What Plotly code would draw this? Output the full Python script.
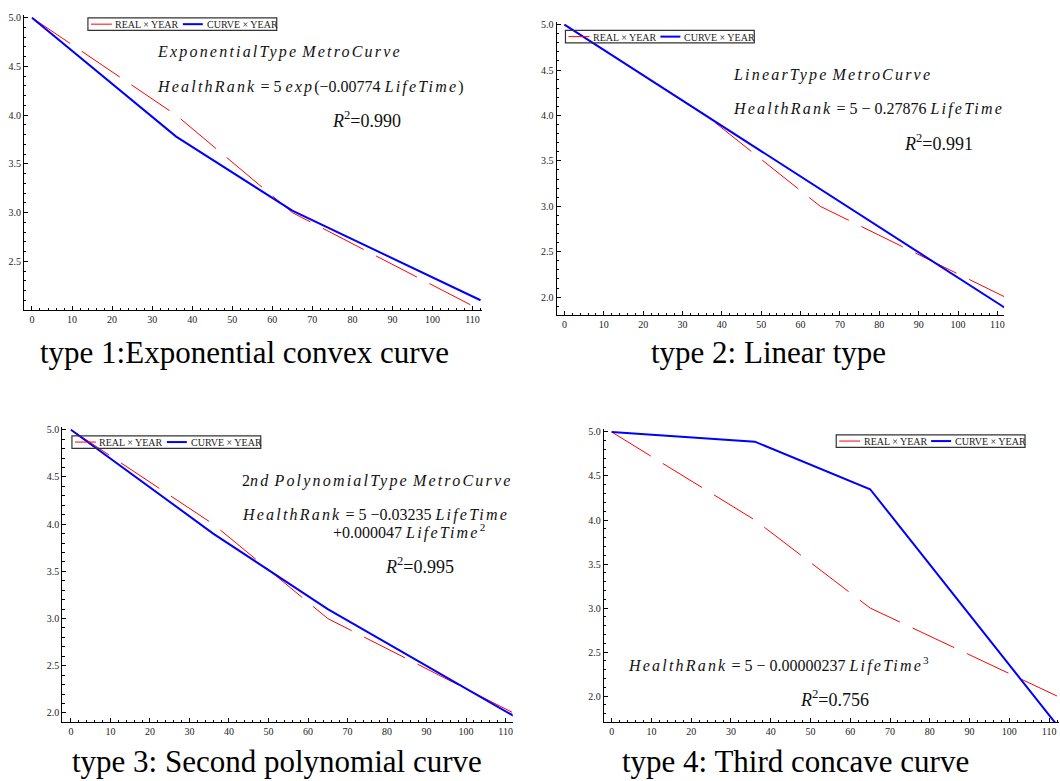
import plotly.graph_objects as go

W, H = 1060, 781

# ---- data ----
years = [0, 36, 65, 112]
real_rank = [5.0, 4.0, 3.0, 2.0]
curve_exponential = [5.0, 3.78, 3.02, 2.10]
curve_linear = [5.0, 4.0, 3.19, 1.88]
curve_poly2 = [5.0, 3.90, 3.10, 1.97]
curve_poly3 = [5.0, 4.89, 4.35, 1.67]

x_ticks = [0, 10, 20, 30, 40, 50, 60, 70, 80, 90, 100, 110]
y_ticks_p1 = [2.5, 3.0, 3.5, 4.0, 4.5, 5.0]
y_ticks = [2.0, 2.5, 3.0, 3.5, 4.0, 4.5, 5.0]

captions = ["type 1:Exponential convex curve", "type 2: Linear type",
            "type 3: Second polynomial curve", "type 4: Third concave curve"]
legend_names = ["REAL \u00d7 YEAR", "CURVE \u00d7 YEAR"]

FONT = "Liberation Serif"
RED = "#ff0000"
BLUE = "#0000ff"

# panel layout: pixel boxes (left, right, top, bottom), axis ranges, legend box (left, top)
panels = [
    dict(curve=curve_exponential, px=(24.0, 482.2, 11.8, 308.2), xr=[-2, 112.3], yr=[2.0, 5.03],
         yt=y_ticks_p1, leg=(88, 15)),
    dict(curve=curve_linear, px=(557.1, 1005.0, 19.0, 313.5), xr=[-2, 111.7], yr=[1.80, 5.03],
         yt=y_ticks, leg=(566, 27.5)),
    dict(curve=curve_poly2, px=(62.3, 513.2, 425.5, 722.2), xr=[-2.2, 111.8], yr=[1.90, 5.03],
         yt=y_ticks, leg=(72, 434.5)),
    dict(curve=curve_poly3, px=(604.3, 1060.0, 428.0, 722.2), xr=[-2, 112.5], yr=[1.70, 5.03],
         yt=y_ticks, leg=(837, 433.5)),
]


def fx(px):
    return px / W


def fy(py):
    return 1 - py / H


fig = go.Figure()
layout = dict(width=W, height=H, margin=dict(l=0, r=0, t=0, b=0),
              paper_bgcolor="white", plot_bgcolor="white", showlegend=False)

annos = []
shapes = []


def txt(text, px, py, size=16, anchor="left", color="#111111"):
    annos.append(dict(text=text, x=fx(px), y=fy(py), xref="paper", yref="paper",
                      xanchor=anchor, yanchor="middle", showarrow=False,
                      font=dict(family=FONT, size=size, color=color)))


for i, p in enumerate(panels):
    n = "" if i == 0 else str(i + 1)
    fig.add_trace(go.Scatter(x=years, y=real_rank, mode="lines", name=legend_names[0],
                             line=dict(color=RED, width=1, dash="46px,14px"),
                             xaxis=f"x{n}", yaxis=f"y{n}"))
    fig.add_trace(go.Scatter(x=years, y=p["curve"], mode="lines", name=legend_names[1],
                             line=dict(color=BLUE, width=2),
                             xaxis=f"x{n}", yaxis=f"y{n}"))
    l, r, t, b = p["px"]
    tickfont = dict(family=FONT, size=10, color="#222222")
    layout[f"xaxis{n}"] = dict(domain=[fx(l), fx(r)], range=p["xr"], anchor=f"y{n}",
                               showline=True, linecolor="black", linewidth=1,
                               showgrid=False, zeroline=False,
                               tickmode="array", tickvals=x_ticks,
                               ticks="inside", ticklen=4, tickcolor="black", tickwidth=1,
                               minor=dict(dtick=2, tick0=0, ticks="inside", ticklen=2.5,
                                          tickcolor="black", showgrid=False),
                               tickfont=tickfont)
    layout[f"yaxis{n}"] = dict(domain=[fy(b), fy(t)], range=p["yr"], anchor=f"x{n}",
                               showline=True, linecolor="black", linewidth=1,
                               showgrid=False, zeroline=False,
                               tickmode="array", tickvals=p["yt"], tickformat=".1f",
                               ticks="inside", ticklen=4, tickcolor="black", tickwidth=1,
                               minor=dict(dtick=0.1, tick0=0, ticks="inside", ticklen=2.5,
                                          tickcolor="black", showgrid=False),
                               tickfont=tickfont)
    # compact legend box (Mathematica style)
    lx, ly = p["leg"]
    bh = 12.5
    cy = ly + bh / 2
    shapes.append(dict(type="rect", xref="paper", yref="paper",
                       x0=fx(lx), x1=fx(lx + 189), y0=fy(ly + bh), y1=fy(ly),
                       line=dict(color="#333333", width=1.2), fillcolor="rgba(0,0,0,0)"))
    shapes.append(dict(type="line", xref="paper", yref="paper",
                       x0=fx(lx + 3), x1=fx(lx + 24), y0=fy(cy), y1=fy(cy),
                       line=dict(color=RED, width=1)))
    shapes.append(dict(type="line", xref="paper", yref="paper",
                       x0=fx(lx + 95), x1=fx(lx + 115), y0=fy(cy), y1=fy(cy),
                       line=dict(color=BLUE, width=2)))
    txt(legend_names[0], lx + 25.5, cy + 0.5, size=10, color="#222222")
    txt(legend_names[1], lx + 117, cy + 0.5, size=10, color="#222222")


def it(s):
    return f'<span style="letter-spacing:2.2px"><i>{s}</i></span>'


# panel 1
txt(it("ExponentialType") + " " + it("MetroCurve"), 155, 49)
txt(it("HealthRank") + " = 5 " + it("exp") + "(\u22120.00774 " + it("LifeTime") + ")", 155, 84)
txt("<i>R</i><sup>2</sup>=0.990", 330, 117, size=18)
# panel 2
txt(it("LinearType") + " " + it("MetroCurve"), 732, 72)
txt(it("HealthRank") + " = 5 \u2212 0.27876 " + it("LifeTime"), 732, 106)
txt("<i>R</i><sup>2</sup>=0.991", 903, 140, size=18)
# panel 3
txt("2" + it("nd") + " " + it("PolynomialType") + " " + it("MetroCurve"), 240, 480)
txt(it("HealthRank") + " = 5 \u22120.03235 " + it("LifeTime"), 240, 514)
txt("+0.000047 " + it("LifeTime") + "<sup>2</sup>", 331, 531)
txt("<i>R</i><sup>2</sup>=0.995", 383, 565, size=18)
# panel 4
txt(it("HealthRank") + " = 5 \u2212 0.00000237 " + it("LifeTime") + "<sup>3</sup>", 627, 664)
txt("<i>R</i><sup>2</sup>=0.756", 799, 698, size=18)

# captions
for c, (cx, cy) in zip(captions, [(245, 351), (769, 351), (277, 761), (796, 761)]):
    txt(c, cx, cy, size=31, anchor="center", color="black")

layout["annotations"] = annos
layout["shapes"] = shapes
fig.update_layout(**layout)
fig.write_html("out.html", config={"displayModeBar": False},
               post_script="document.body.style.margin='0';document.body.style.overflow='hidden';")
